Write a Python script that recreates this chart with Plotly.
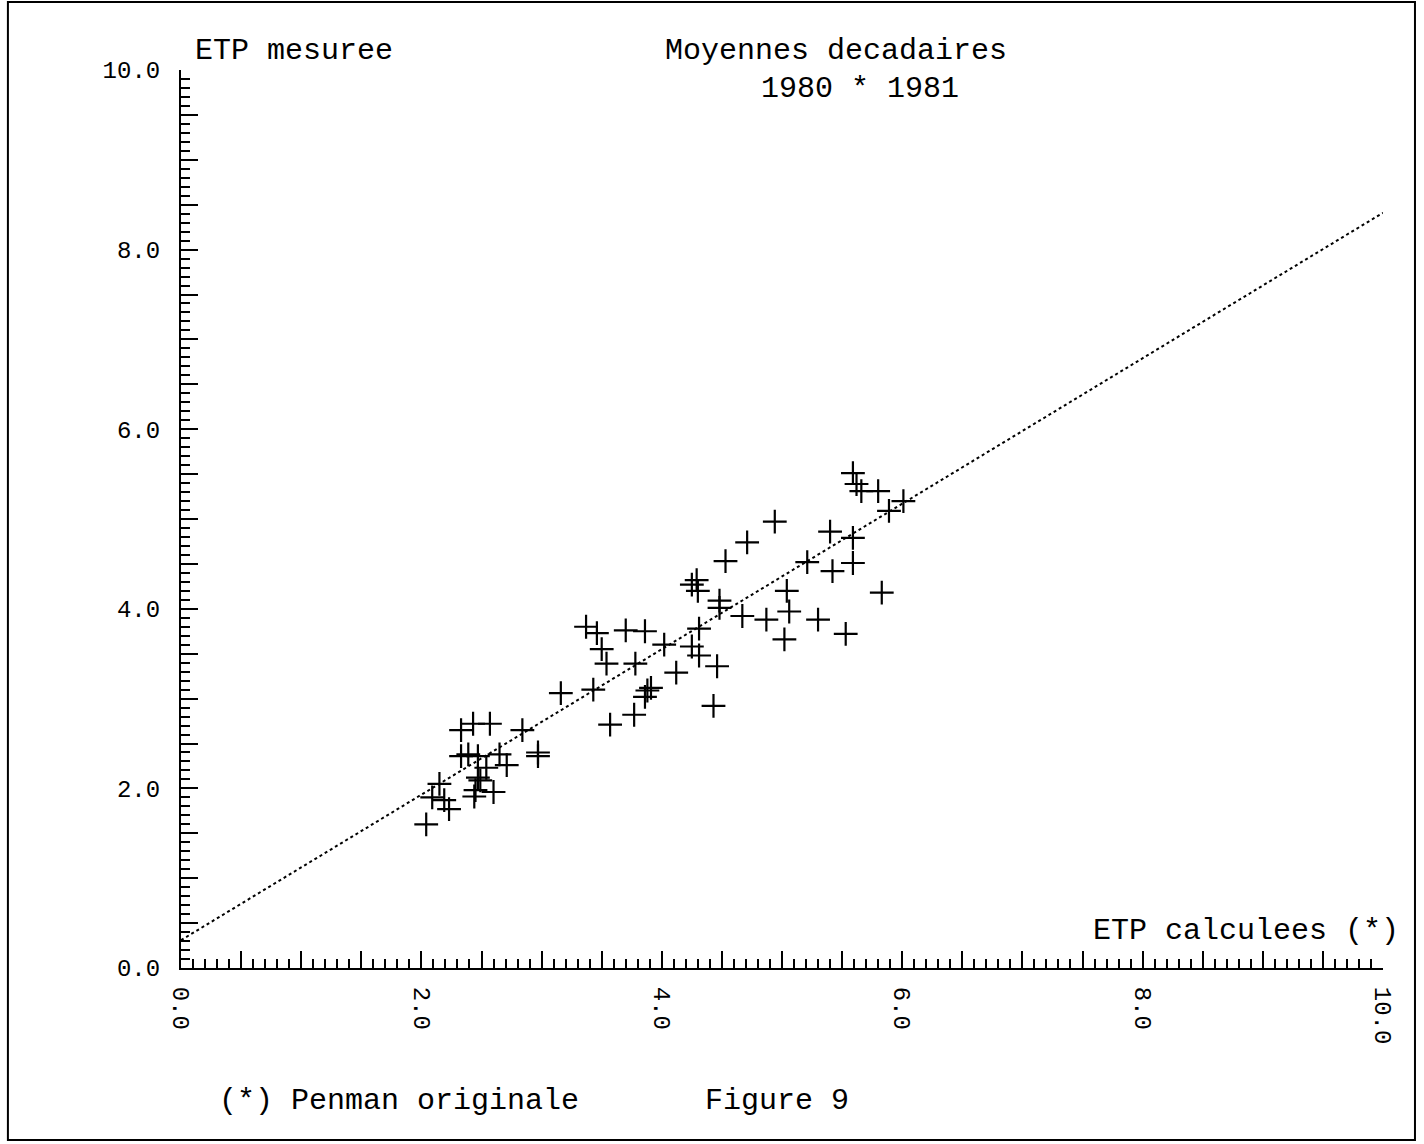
import plotly.graph_objects as go

# ETP calculees (Penman originale), ETP mesuree - moyennes decadaires 1980-1981
etp_calc = [2.04, 2.09, 2.15, 2.19, 2.23, 2.33, 2.43, 2.57, 2.33, 2.39, 2.47,
            2.49, 2.47, 2.44, 2.45, 2.54, 2.60, 2.65, 2.71, 2.84, 2.97, 2.97,
            3.16, 3.37, 3.46, 3.50, 3.54, 3.43, 3.57, 3.70, 3.86, 3.78, 3.77,
            3.88, 3.91, 3.86, 4.02, 4.12, 4.25, 4.31, 4.31, 4.25, 4.29, 4.30,
            4.43, 4.46, 4.48, 4.48, 4.53, 4.67, 4.71, 4.87, 4.94, 5.02, 5.04,
            5.06, 5.21, 5.30, 5.40, 5.42, 5.53, 5.59, 5.59, 5.59, 5.62, 5.66,
            5.80, 5.83, 5.89, 6.01]
etp_mes = [1.60, 1.90, 2.05, 1.87, 1.77, 2.65, 2.72, 2.72, 2.36, 2.38, 2.36,
           2.09, 2.12, 1.91, 1.98, 2.23, 1.96, 2.38, 2.26, 2.65, 2.40, 2.36,
           3.06, 3.80, 3.73, 3.55, 3.39, 3.10, 2.71, 3.76, 3.75, 3.39, 2.82,
           3.09, 3.12, 3.02, 3.60, 3.29, 3.58, 3.48, 3.78, 4.27, 4.32, 4.20,
           2.92, 3.36, 4.09, 4.01, 4.53, 3.92, 4.74, 3.88, 4.97, 3.66, 4.20,
           3.97, 4.52, 3.88, 4.86, 4.42, 3.72, 4.51, 4.79, 5.51, 5.39, 5.31,
           5.31, 4.18, 5.09, 5.20]

# regression line
fit_intercept = 0.31
fit_slope = 0.81
line_x = [0.0, 10.0]

tick_vals = [i * 0.5 for i in range(21)]
tick_text = [f"{v:.1f}" if abs(v - round(v)) < 1e-9 and int(round(v)) % 2 == 0 else "" for v in tick_vals]

FONT = "Liberation Mono, DejaVu Sans Mono, monospace"

fig = go.Figure()
fig.add_trace(go.Scatter(
    x=line_x, y=[fit_intercept + fit_slope * v for v in line_x],
    mode="lines", line=dict(color="black", width=2, dash="dot"),
    hoverinfo="skip", showlegend=False))
fig.add_trace(go.Scatter(
    x=etp_calc, y=etp_mes, mode="markers",
    marker=dict(symbol="cross-thin-open", size=17, color="black",
                line=dict(color="black", width=2.2)),
    showlegend=False))

axis_common = dict(
    range=[0, 10], showgrid=False, zeroline=False, showline=True,
    linecolor="black", linewidth=2, ticks="inside", ticklen=17, tickwidth=1.5,
    tickcolor="black", tickmode="array", tickvals=tick_vals, ticktext=tick_text,
    tickfont=dict(family=FONT, size=24, color="black"),
    minor=dict(dtick=0.1, ticks="inside", ticklen=9, tickwidth=1.5, tickcolor="black"),
    fixedrange=True,
)

fig.update_xaxes(**axis_common, tickangle=90, ticklabelstandoff=12)
fig.update_yaxes(**axis_common, ticklabelstandoff=14)

ann_font = dict(family=FONT, size=30, color="black")
fig.update_layout(
    width=1424, height=1144,
    margin=dict(l=181, r=41, t=70, b=176),
    plot_bgcolor="white", paper_bgcolor="white",
    annotations=[
        dict(text="ETP mesuree", xref="paper", yref="paper", x=0.01, y=1.0,
             xanchor="left", yanchor="bottom", showarrow=False, font=ann_font),
        dict(text="Moyennes decadaires", xref="paper", yref="paper", x=0.545, y=1.0,
             xanchor="center", yanchor="bottom", showarrow=False, font=ann_font),
        dict(text="1980 * 1981", xref="paper", yref="paper", x=0.565, y=0.958,
             xanchor="center", yanchor="bottom", showarrow=False, font=ann_font),
        dict(text="ETP calculees (*)", xref="paper", yref="paper", x=1.015, y=0.02,
             xanchor="right", yanchor="bottom", showarrow=False, font=ann_font),
        dict(text="(*) Penman originale       Figure 9", xref="paper", yref="paper",
             x=0.03, y=-0.148, xanchor="left", yanchor="middle", showarrow=False,
             font=ann_font),
    ],
    shapes=[
        dict(type="rect", xref="paper", yref="paper",
             x0=-0.144, x1=1.0266, y0=-0.1915, y1=1.0757,
             line=dict(color="black", width=2), fillcolor="rgba(0,0,0,0)"),
    ],
)

fig.write_html("out.html")
